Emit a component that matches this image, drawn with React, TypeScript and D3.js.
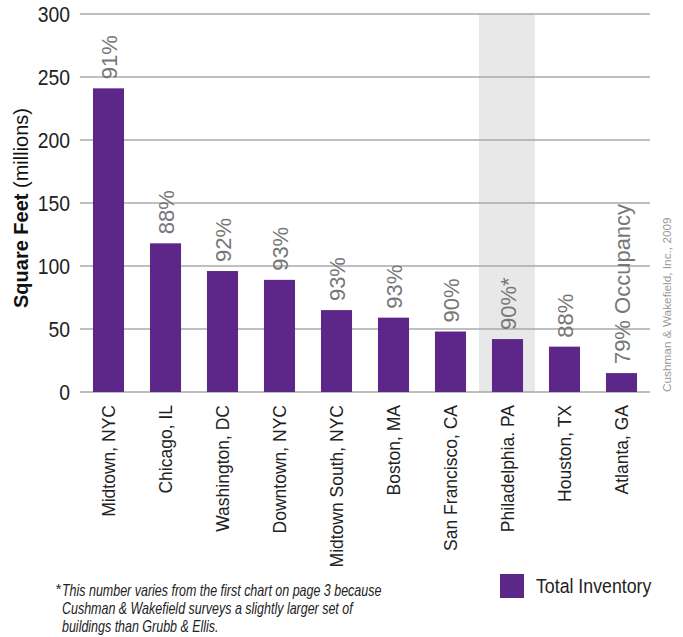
import React from "react";
import * as d3 from "d3";

const categories = ["Midtown, NYC", "Chicago, IL", "Washington, DC", "Downtown, NYC", "Midtown South, NYC", "Boston, MA", "San Francisco, CA", "Philadelphia. PA", "Houston, TX", "Atlanta, GA"];
const inventory = [241, 118, 96, 89, 65, 59, 48, 42, 36, 15];
const occupancyLabels = ["91%", "88%", "92%", "93%", "93%", "93%", "90%", "90%*", "88%", "79% Occupancy"];
const yTicks = [0, 50, 100, 150, 200, 250, 300];
const highlighted = "Philadelphia. PA";

const FONT = "'Liberation Sans Narrow', 'Arial Narrow', 'Liberation Sans', sans-serif";

export default function App() {
  const W = 683, H = 637;
  const left = 80, right = 650, top = 14, bottom = 392;
  const x = d3.scaleBand<string>().domain(categories).range([left, right]).paddingInner(0.455).paddingOuter(0.2275);
  const y = d3.scaleLinear().domain([0, 300]).range([bottom, top]);
  const purple = "#5c2789";

  return (
    <svg width={W} height={H} style={{ position: "absolute", left: 0, top: 0, fontFamily: FONT }}>
      <rect x={0} y={0} width={W} height={H} fill="#fff" />
      {/* highlight band */}
      <rect x={(x(highlighted) as number) - x.step() * 0.227} y={top} width={x.step() * 0.98} height={bottom - top} fill="#e8e8e8" />
      {/* gridlines */}
      {yTicks.map(t => (
        <line key={t} x1={left} x2={right} y1={y(t)} y2={y(t)} stroke="#aaaaaa" strokeWidth={1.3} />
      ))}
      {yTicks.map(t => (
        <text key={"l" + t} transform={`translate(70,${y(t)}) scale(0.9,1)`} dy="0.36em" textAnchor="end" fontSize={21.5} fill="#222">{t}</text>
      ))}
      {/* bars */}
      {categories.map((c, i) => (
        <rect key={c} x={x(c)} y={y(inventory[i])} width={x.bandwidth()} height={bottom - y(inventory[i])} fill={purple} />
      ))}
      {/* percent labels */}
      {categories.map((c, i) => {
        const cx = (x(c) as number) + x.bandwidth() / 2;
        const cy = y(inventory[i]) - 9;
        return (
          <text key={"p" + c} transform={`translate(${cx + 8},${cy}) rotate(-90)`} fontSize={22} fill="#777">{occupancyLabels[i]}</text>
        );
      })}
      {/* x labels */}
      {categories.map(c => {
        const cx = (x(c) as number) + x.bandwidth() / 2;
        return (
          <text key={"x" + c} transform={`translate(${cx + 6},${405}) rotate(-90)`} textAnchor="end" fontSize={17.5} fill="#222">{c}</text>
        );
      })}
      {/* y title */}
      <text transform={`translate(28,${208}) rotate(-90)`} textAnchor="middle" fontSize={20} fill="#111">
        <tspan fontWeight="bold">Square Feet</tspan>
        <tspan> (millions)</tspan>
      </text>
      {/* source */}
      <text transform={`translate(671,${bottom}) rotate(-90)`} fontSize={11.8} fill="#999">Cushman &amp; Wakefield, Inc., 2009</text>
      {/* footnote */}
      <text x={55} y={594} fontSize={15} fontStyle="italic" fill="#222">*</text>
      <g transform="translate(62,596) scale(0.78,1)">
        <text x={0} y={0} fontSize={16} fontStyle="italic" fill="#222">
          <tspan x={0}>This number varies from the first chart on page 3 because</tspan>
          <tspan x={0} dy={18}>Cushman &amp; Wakefield surveys a slightly larger set of</tspan>
          <tspan x={0} dy={18}>buildings than Grubb &amp; Ellis.</tspan>
        </text>
      </g>
      {/* legend */}
      <rect x={500} y={574} width={24} height={24} fill={purple} />
      <text transform="translate(536,593) scale(0.91,1)" fontSize={19.5} fill="#222">Total Inventory</text>
    </svg>
  );
}
